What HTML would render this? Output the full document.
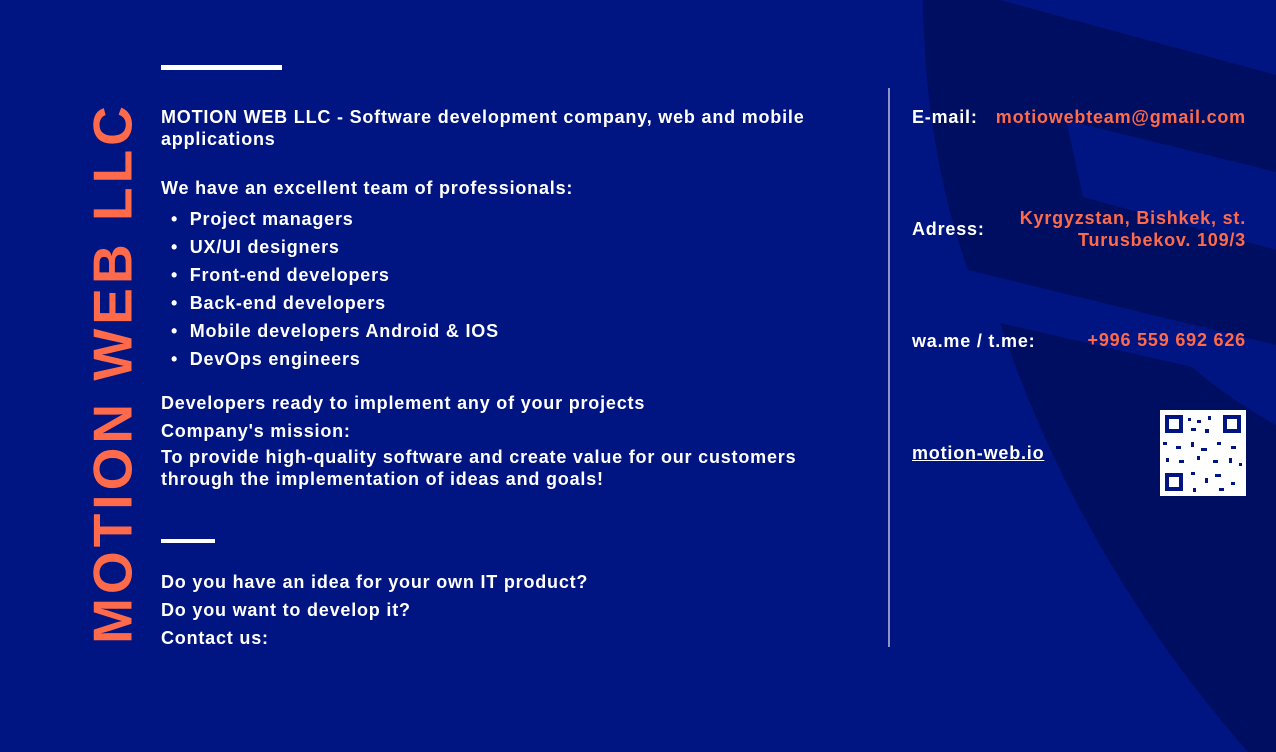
<!DOCTYPE html>
<html><head><meta charset="utf-8"><style>
*{margin:0;padding:0;box-sizing:border-box}
body{width:1276px;height:752px;overflow:hidden;background:#001482;font-family:"Liberation Sans",sans-serif;font-weight:bold;color:#fff;position:relative}
.t{position:absolute;font-size:18px;letter-spacing:0.8px;white-space:nowrap;line-height:22px}
.o{color:#ff6b4a}
.bar{position:absolute;background:#fff;height:5px}
</style></head><body>
<svg width="1276" height="752" style="position:absolute;left:0;top:0">
<path d="M923,0 L1000,0 L1276,75 L1276,172 L1066,120 L1083,197 L1276,250 L1276,345 L968,270 Q925,150 923,0 Z" fill="#000e62"/>
<path d="M1000,323 L1192,367 Q1230,400 1276,425 L1276,752 L1248,752 Q1080,560 1000,323 Z" fill="#000e62"/>
<line x1="889" y1="88" x2="889" y2="647" stroke="#8d95c8" stroke-width="2"/>
<rect x="1160" y="410" width="86" height="86" fill="#fff"/>
<g fill="#001482">
<rect x="1165" y="415" width="18" height="18"/><rect x="1223" y="415" width="18" height="18"/><rect x="1165" y="473" width="18" height="18"/>
<rect x="1188" y="418" width="3" height="3"/><rect x="1197" y="420" width="4" height="3"/><rect x="1208" y="416" width="3" height="4"/><rect x="1191" y="428" width="5" height="3"/><rect x="1205" y="429" width="4" height="4"/>
<rect x="1163" y="442" width="4" height="3"/><rect x="1176" y="446" width="5" height="3"/><rect x="1191" y="442" width="3" height="5"/><rect x="1201" y="448" width="6" height="3"/><rect x="1217" y="442" width="4" height="3"/><rect x="1231" y="446" width="5" height="3"/>
<rect x="1166" y="458" width="3" height="4"/><rect x="1179" y="460" width="5" height="3"/><rect x="1197" y="456" width="3" height="4"/><rect x="1213" y="460" width="5" height="3"/><rect x="1229" y="458" width="3" height="5"/><rect x="1239" y="463" width="3" height="3"/>
<rect x="1191" y="472" width="4" height="3"/><rect x="1205" y="478" width="3" height="5"/><rect x="1215" y="474" width="6" height="3"/><rect x="1231" y="482" width="4" height="3"/><rect x="1193" y="488" width="3" height="4"/><rect x="1219" y="488" width="5" height="3"/>
</g>
<g fill="#fff"><rect x="1169" y="419" width="10" height="10"/><rect x="1227" y="419" width="10" height="10"/><rect x="1169" y="477" width="10" height="10"/></g>
</svg>
<div style="position:absolute;left:113px;top:373px;transform:translate(-50%,-50%) rotate(-90deg);font-size:55px;color:#ff6b4a;white-space:nowrap;letter-spacing:4px;line-height:55px">MOTION WEB LLC</div>
<div class="bar" style="left:161px;top:65px;width:121px"></div>
<div class="t" style="left:161px;top:106px">MOTION WEB LLC - Software development company, web and mobile<br>applications</div>
<div class="t" style="left:161px;top:177px">We have an excellent team of professionals:</div>
<div class="t" style="left:171px;top:205px;line-height:28px">•&nbsp; Project managers<br>•&nbsp; UX/UI designers<br>•&nbsp; Front-end developers<br>•&nbsp; Back-end developers<br>•&nbsp; Mobile developers Android &amp; IOS<br>•&nbsp; DevOps engineers</div>
<div class="t" style="left:161px;top:389px;line-height:28px">Developers ready to implement any of your projects<br>Company's mission:</div>
<div class="t" style="left:161px;top:446px">To provide high-quality software and create value for our customers<br>through the implementation of ideas and goals!</div>
<div class="bar" style="left:161px;top:539px;width:54px;height:4px"></div>
<div class="t" style="left:161px;top:568px;line-height:28px">Do you have an idea for your own IT product?<br>Do you want to develop it?<br>Contact us:</div>
<div class="t" style="left:912px;top:106px">E-mail:</div>
<div class="t o" style="right:30px;top:106px">motiowebteam@gmail.com</div>
<div class="t" style="left:912px;top:218px">Adress:</div>
<div class="t o" style="right:30px;top:207px;text-align:right">Kyrgyzstan, Bishkek, st.<br>Turusbekov. 109/3</div>
<div class="t" style="left:912px;top:330px">wa.me / t.me:</div>
<div class="t o" style="right:30px;top:329px">+996 559 692 626</div>
<div class="t" style="left:912px;top:442px;text-decoration:underline">motion-web.io</div>
</body></html>
